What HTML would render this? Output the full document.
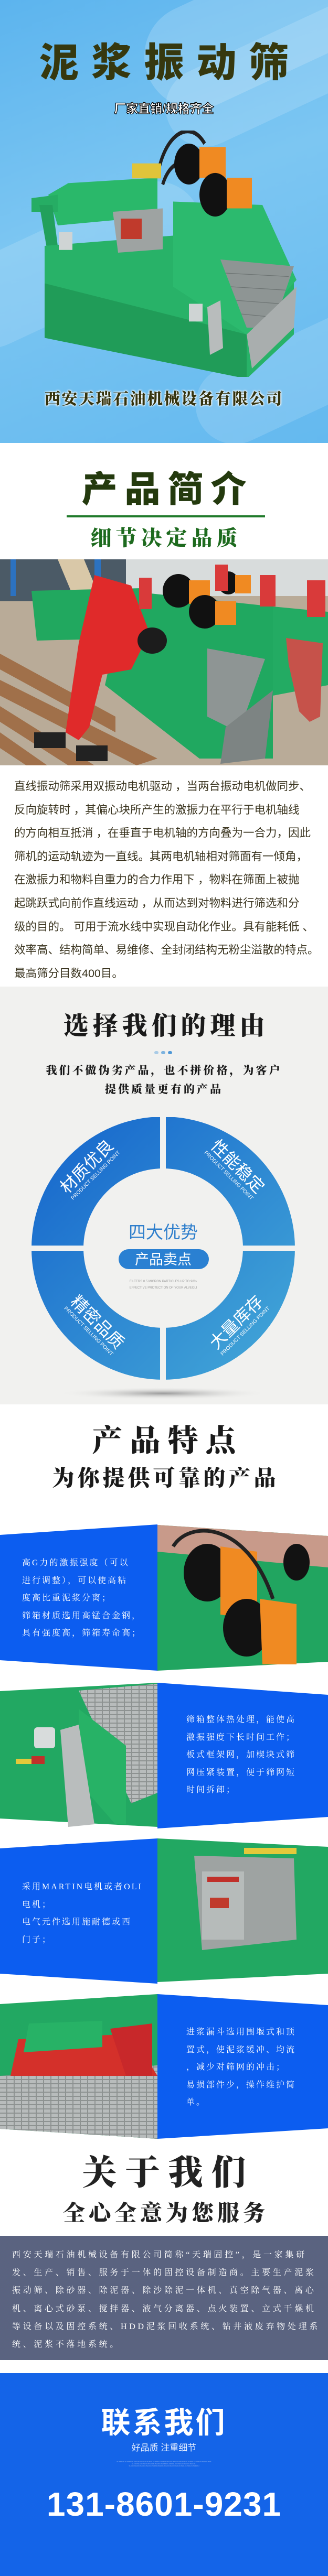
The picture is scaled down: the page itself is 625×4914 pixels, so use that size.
<!DOCTYPE html>
<html><head><meta charset="utf-8"><style>
*{margin:0;padding:0;box-sizing:border-box}
body{width:625px;height:4914px;position:relative;background:#fff;overflow:hidden;font-family:"Liberation Sans","Noto Sans CJK SC",sans-serif}
.a{position:absolute}
.c{position:absolute;left:0;width:625px;text-align:center;white-space:nowrap}
.cal{font-family:"Liberation Serif","Noto Serif CJK SC",serif;font-weight:900}
.ft{position:absolute;color:#fff;font-family:"Liberation Serif","Noto Serif CJK SC",serif;font-size:16px;letter-spacing:3px;line-height:33.6px;white-space:nowrap}
</style></head><body>

<!-- HERO -->
<div class="a" style="left:0;top:0;width:625px;height:845px;background:linear-gradient(160deg,#5cb4ee 0%,#7cc6f2 45%,#64b9ef 100%);overflow:hidden">
 <div class="a" style="left:260px;top:-60px;width:520px;height:200px;border-radius:100px;background:rgba(255,255,255,.18);transform:rotate(-25deg)"></div>
 <div class="a" style="left:300px;top:60px;width:480px;height:150px;border-radius:80px;background:rgba(255,255,255,.15);transform:rotate(-25deg)"></div>
 <div class="a" style="left:-120px;top:420px;width:520px;height:170px;border-radius:90px;background:rgba(255,255,255,.14);transform:rotate(-25deg)"></div>
 <div class="a" style="left:360px;top:640px;width:420px;height:150px;border-radius:80px;background:rgba(255,255,255,.14);transform:rotate(-25deg)"></div>
</div>
<div class="c" style="top:78px;font-size:76px;line-height:86px;letter-spacing:24px;text-indent:24px;color:#36380f;font-weight:900;font-family:'Liberation Sans','Noto Sans CJK SC',sans-serif">泥浆振动筛</div>
<div class="c" style="top:193px;font-size:23px;line-height:28px;color:#fff;font-weight:900;-webkit-text-stroke:1.2px #000">厂家直销/规格齐全</div>

<svg class="a" style="left:0;top:249px" width="625" height="470" viewBox="0 0 625 470">
<g transform="translate(0,-40) scale(1,1.3)">
 <path d="M300 100 C310 40 360 10 390 50" stroke="#222" stroke-width="6" fill="none"/>
 <path d="M310 110 C330 60 380 70 430 110" stroke="#222" stroke-width="6" fill="none"/>
 <polygon points="92,125 130,108 300,100 300,150 250,160 110,170" fill="#2ab86a"/>
 <polygon points="60,130 110,125 110,150 60,150" fill="#26ad64"/>
 <polygon points="75,140 100,140 115,230 95,230" fill="#22a05c"/>
 <polygon points="85,200 330,185 560,250 560,330 470,395 85,330" fill="#28b268"/>
 <polygon points="85,255 470,330 470,395 85,335" fill="#209c58"/>
 <polygon points="330,135 500,140 565,250 470,330 330,260" fill="#2cba6e"/>
 <polygon points="420,220 560,230 520,320 470,320" fill="#8e9594"/>
 <g stroke="#6d7473" stroke-width="1">
  <line x1="430" y1="240" x2="550" y2="245"/><line x1="440" y1="260" x2="545" y2="265"/><line x1="450" y1="280" x2="535" y2="285"/><line x1="460" y1="300" x2="525" y2="305"/>
 </g>
 <polygon points="470,330 565,260 560,320 480,380" fill="#a9aeae"/>
 <polygon points="215,150 310,145 310,205 225,210" fill="#9ea3a2"/>
 <rect x="230" y="160" width="40" height="30" fill="#c03a2c"/>
 <rect x="252" y="79" width="55" height="22" fill="#e0c43a"/>
 <ellipse cx="360" cy="80" rx="28" ry="30" fill="#111"/>
 <rect x="380" y="55" width="50" height="45" fill="#f08a22"/>
 <ellipse cx="410" cy="125" rx="30" ry="32" fill="#111"/>
 <rect x="432" y="100" width="48" height="45" fill="#f08a22"/>
 <rect x="112" y="180" width="26" height="26" fill="#cfd4d4"/>
 <rect x="360" y="285" width="26" height="26" fill="#cfd4d4"/>
 <polygon points="395,290 420,280 425,350 400,360" fill="#b8bcbc"/>
</g>
</svg>

<div class="c cal" style="top:745px;font-size:30px;line-height:34px;letter-spacing:2.5px;color:#35330e;text-shadow:0 0 3px #fff,0 0 3px #fff,0 0 5px #fff">西安天瑞石油机械设备有限公司</div>

<!-- PRODUCT INTRO -->
<div class="c" style="top:895px;font-size:68px;line-height:78px;letter-spacing:14px;text-indent:14px;color:#243a0e;font-weight:900;font-family:'Liberation Sans','Noto Sans CJK SC',sans-serif">产品简介</div>
<div class="a" style="left:127px;top:983px;width:378px;height:4px;background:#1f7a2a"></div>
<div class="c cal" style="top:1004px;font-size:40px;line-height:46px;letter-spacing:8px;text-indent:8px;color:#1d6a1e">细节决定品质</div>

<svg class="a" style="left:0;top:1067px" width="625" height="393" viewBox="0 0 625 393">
 <rect width="625" height="393" fill="#b9ab98"/>
 <rect width="625" height="70" fill="#d8dcdc"/>
 <rect x="0" y="0" width="240" height="80" fill="#4b5a66"/>
 <rect x="20" y="0" width="10" height="70" fill="#2c72c0"/>
 <rect x="180" y="0" width="12" height="60" fill="#2c72c0"/>
 <polygon points="110,0 160,0 185,60 135,60" fill="#d9c8a8"/>
 <polygon points="60,60 270,55 270,150 70,155" fill="#21a85f"/>
 <polygon points="240,60 520,90 520,380 380,380 200,240" fill="#20a860"/>
 <polygon points="520,90 625,100 625,240 520,260" fill="#23ab63"/>
 <polygon points="395,170 505,190 455,330 395,300" fill="#8e9594"/>
 <polygon points="430,320 520,250 505,380 420,390" fill="#7d8483"/>
 <ellipse cx="340" cy="60" rx="30" ry="32" fill="#111"/><rect x="360" y="40" width="40" height="45" fill="#f08a22"/>
 <ellipse cx="390" cy="100" rx="30" ry="32" fill="#111"/><rect x="410" y="80" width="40" height="45" fill="#f08a22"/>
 <ellipse cx="435" cy="45" rx="20" ry="22" fill="#111"/><rect x="448" y="30" width="30" height="35" fill="#f08a22"/>
 <g fill="#a0704a">
  <polygon points="0,180 220,300 220,330 0,210"/><polygon points="0,230 300,380 260,393 0,260"/><polygon points="0,280 180,393 130,393 0,310"/><polygon points="0,330 90,393 50,393 0,360"/>
 </g>
 <path d="M180 30 L250 50 L285 140 L250 210 L195 220 L170 320 L150 345 L125 330 L150 160 Z" fill="#e02a2a"/>
 <ellipse cx="290" cy="155" rx="28" ry="25" fill="#1c1c1c"/>
 <rect x="65" y="330" width="60" height="30" fill="#222"/><rect x="145" y="355" width="60" height="30" fill="#222"/>
 <path d="M545 150 L615 160 L610 300 L590 310 L570 290 L550 200 Z" fill="#c6524a"/>
 <g fill="#d93a3a"><rect x="265" y="35" width="24" height="60"/><rect x="410" y="10" width="24" height="50"/><rect x="495" y="30" width="30" height="60"/><rect x="585" y="40" width="35" height="70"/></g>
</svg>

<div class="a" style="left:27px;top:1478px;width:600px;font-size:21.5px;line-height:44.6px;color:#3b3520;white-space:nowrap">直线振动筛采用双振动电机驱动 ，当两台振动电机做同步、<br>反向旋转时 ，其偏心块所产生的激振力在平行于电机轴线<br>的方向相互抵消 ，在垂直于电机轴的方向叠为一合力，因此<br>筛机的运动轨迹为一直线。其两电机轴相对筛面有一倾角，<br>在激振力和物料自重力的合力作用下 ，物料在筛面上被抛<br>起跳跃式向前作直线运动 ，从而达到对物料进行筛选和分<br>级的目的。 可用于流水线中实现自动化作业。具有能耗低 、<br>效率高、结构简单、易维修、全封闭结构无粉尘溢散的特点。<br>最高筛分目数400目。</div>

<!-- REASONS -->
<div class="a" style="left:0;top:1882px;width:625px;height:797px;background:#f1f1ef"></div>
<div class="c cal" style="top:1930px;font-size:48px;line-height:56px;letter-spacing:8px;text-indent:8px;color:#1a1a1a">选择我们的理由</div>
<div class="a" style="left:294px;top:2005px;width:8px;height:6px;border-radius:3px;background:#a9cbe6"></div>
<div class="a" style="left:307px;top:2005px;width:8px;height:6px;border-radius:3px;background:#7db3df"></div>
<div class="a" style="left:320px;top:2005px;width:8px;height:6px;border-radius:3px;background:#4f98d6"></div>
<div class="c cal" style="top:2024px;font-size:21px;line-height:36px;letter-spacing:4px;color:#1a1a1a">我们不做伪劣产品，也不拼价格，为客户<br>提供质量更有的产品</div>

<svg class="a" style="left:0;top:2120px" width="625" height="560" viewBox="0 2120 625 560">
 <defs>
  <linearGradient id="rg" x1="0" y1="0" x2="1" y2="1"><stop offset="0" stop-color="#1463cc"/><stop offset="1" stop-color="#45aad8"/></linearGradient>
  <radialGradient id="sh" cx="0.5" cy="0.5" r="0.5"><stop offset="0" stop-color="#9a9a9a"/><stop offset="1" stop-color="#f1f1ef" stop-opacity="0"/></radialGradient>
 </defs>
 <ellipse cx="311" cy="2658" rx="200" ry="12" fill="url(#sh)"/>
 <circle cx="311" cy="2381" r="251" fill="url(#rg)"/>
 <circle cx="311" cy="2381" r="152" fill="#f1f1ef"/>
 <rect x="305" y="2120" width="11" height="520" fill="#f1f1ef"/>
 <rect x="0" y="2376" width="625" height="10" fill="#f1f1ef"/>
 <rect x="0" y="2120" width="60" height="520" fill="#f1f1ef"/>
 <rect x="562" y="2120" width="63" height="520" fill="#f1f1ef"/>
 <rect x="0" y="2120" width="625" height="11" fill="#f1f1ef"/>
 <rect x="226" y="2383" width="172" height="38" rx="19" fill="#2a80d2"/>
 <text x="311" y="2362" text-anchor="middle" font-size="33" fill="#2f7fcc" font-family="Liberation Sans, Noto Sans CJK SC, sans-serif">四大优势</text>
 <text x="311" y="2412" text-anchor="middle" font-size="27" fill="#fff" font-family="Liberation Sans, Noto Sans CJK SC, sans-serif">产品卖点</text>
 <text x="311" y="2446" text-anchor="middle" font-size="6" fill="#999" font-family="Liberation Sans, sans-serif">FILTERS 0.5 MICRON PARTICLES UP TO 98%</text>
 <text x="311" y="2458" text-anchor="middle" font-size="6" fill="#999" font-family="Liberation Sans, sans-serif">EFFECTIVE PROTECTION OF YOUR ALVEOLI</text>
 <g fill="#fff" font-family="Liberation Sans, Noto Sans CJK SC, sans-serif" text-anchor="middle">
  <g transform="translate(173,2233) rotate(-45)"><text y="0" font-size="32">材质优良</text><text y="16" font-size="10">PRODUCT SELLING POINT</text></g>
  <g transform="translate(445,2233) rotate(45)"><text y="0" font-size="32">性能稳定</text><text y="16" font-size="10">PRODUCT SELLING POINT</text></g>
  <g transform="translate(178,2530) rotate(45)"><text y="0" font-size="32">精密品质</text><text y="16" font-size="10">PRODUCT SELLING POINT</text></g>
  <g transform="translate(458,2530) rotate(-45)"><text y="0" font-size="32">大量库存</text><text y="16" font-size="10">PRODUCT SELLING POINT</text></g>
 </g>
</svg>

<!-- FEATURES -->
<div class="c cal" style="top:2716px;font-size:58px;line-height:66px;letter-spacing:14px;text-indent:14px;color:#1a1a1a">产品特点</div>
<div class="c cal" style="top:2796px;font-size:42px;line-height:50px;letter-spacing:6px;text-indent:6px;color:#1a1a1a">为你提供可靠的产品</div>

<svg class="a" style="left:0;top:2900px" width="625" height="1190" viewBox="0 2900 625 1190">
 <defs><pattern id="mesh" width="14" height="8" patternUnits="userSpaceOnUse"><rect width="14" height="8" fill="#8d9291"/><rect width="12" height="6" fill="#b8bcbc"/></pattern></defs>
 <polygon points="0,2928 300,2908 300,3187 0,3167" fill="#0c5df0"/>
 <polygon points="300,2909 625,2930 625,3170 300,3187" fill="#21a560"/>
 <polygon points="300,2909 625,2930 625,2990 300,2960" fill="#c89a8a"/>
 <ellipse cx="395" cy="3000" rx="45" ry="55" fill="#121212"/>
 <polygon points="420,2950 490,2960 490,3090 420,3080" fill="#f08a22"/>
 <ellipse cx="470" cy="3105" rx="45" ry="55" fill="#121212"/>
 <polygon points="495,3050 565,3060 565,3175 500,3175" fill="#f08a22"/>
 <ellipse cx="565" cy="2980" rx="25" ry="35" fill="#121212"/>
 <path d="M330 2950 C360 2900 470 2900 520 3050" stroke="#222" stroke-width="7" fill="none"/>
 <polygon points="0,3226 300,3210 300,3485 0,3469" fill="#22a862"/>
 <polygon points="150,3225 300,3212 300,3420 250,3440" fill="url(#mesh)"/>
 <polygon points="150,3260 240,3330 240,3480 220,3480 150,3400" fill="#27b266"/>
 <rect x="65" y="3295" width="40" height="40" rx="6" fill="#d8dcdc"/>
 <polygon points="115,3300 150,3290 180,3480 130,3485" fill="#b9bdbd"/>
 <rect x="30" y="3355" width="30" height="10" fill="#e3c93a"/>
 <rect x="60" y="3350" width="25" height="15" fill="#c0302a"/>
 <polygon points="300,3210 625,3233 625,3466 300,3488" fill="#0c5df0"/>
 <polygon points="0,3526 300,3507 300,3784 0,3765" fill="#0c5df0"/>
 <polygon points="300,3507 625,3523 625,3765 300,3781" fill="#22a862"/>
 <polygon points="370,3540 560,3545 565,3700 385,3720" fill="#9ea3a2"/>
 <rect x="385" y="3570" width="80" height="130" fill="#b6bbba"/>
 <rect x="395" y="3580" width="60" height="10" fill="#c0302a"/>
 <rect x="400" y="3620" width="36" height="20" fill="#c03a2c"/>
 <rect x="465" y="3525" width="100" height="12" fill="#e3c93a"/>
 <polygon points="0,3823 300,3804 300,4080 0,4061" fill="#22a862"/>
 <polygon points="0,3960 300,3940 300,4080 0,4061" fill="url(#mesh)"/>
 <polygon points="35,3890 250,3880 300,3960 20,3960" fill="#d4302a"/>
 <polygon points="55,3860 195,3855 195,3905 45,3915" fill="#27b266"/>
 <polygon points="210,3870 290,3860 290,3960 240,3960" fill="#c8282a"/>
 <polygon points="300,3804 625,3825 625,4060 300,4080" fill="#0c5df0"/>
</svg>

<div class="ft" style="left:42px;top:2965px">高G力的激振强度（可以<br>进行调整），可以使高粘<br>度高比重泥浆分离；<br>筛箱材质选用高锰合金钢，<br>具有强度高，筛箱寿命高；</div>
<div class="ft" style="left:355px;top:3264px">筛箱整体热处理，能使高<br>激振强度下长时间工作；<br>板式框架网，加楔块式筛<br>网压紧装置，便于筛网短<br>时间拆卸；</div>
<div class="ft" style="left:42px;top:3583px">采用MARTIN电机或者OLI<br>电机；<br>电气元件选用施耐德或西<br>门子；</div>
<div class="ft" style="left:355px;top:3860px">进浆漏斗选用围堰式和顶<br>置式，使泥浆缓冲、均流<br>，减少对筛网的冲击；<br>易损部件少，操作维护简<br>单。</div>

<!-- ABOUT -->
<div class="c cal" style="top:4106px;font-size:66px;line-height:80px;letter-spacing:16px;text-indent:16px;color:#222">关于我们</div>
<div class="c cal" style="top:4198px;font-size:42px;line-height:50px;letter-spacing:7px;text-indent:7px;color:#222">全心全意为您服务</div>
<div class="a" style="left:0;top:4265px;width:625px;height:237px;background:#5a6380"></div>
<div class="a cal" style="left:23px;top:4285px;font-size:16px;letter-spacing:4.7px;line-height:34.2px;color:#fff;white-space:nowrap;font-weight:400">西安天瑞石油机械设备有限公司简称“天瑞固控”，是一家集研<br>发、生产、销售、服务于一体的固控设备制造商。主要生产泥浆<br>振动筛、除砂器、除泥器、除沙除泥一体机、真空除气器、离心<br>机、离心式砂泵、搅拌器、液气分离器、点火装置、立式干燥机<br>等设备以及固控系统、HDD泥浆回收系统、钻井液废弃物处理系<br>统、泥浆不落地系统。</div>

<!-- CONTACT -->
<div class="a" style="left:0;top:4527px;width:625px;height:387px;background:#1464e8"></div>
<div class="c" style="top:4590px;font-size:56px;line-height:64px;letter-spacing:4px;color:#fff;font-weight:700">联系我们</div>
<div class="c" style="top:4658px;font-size:17px;line-height:24px;color:#e8f0ff">好品质 注重细节</div>
<div class="c" style="top:4694px;font-size:3px;line-height:4px;color:#9ab8f0">SLIKDFJSLDLSKDFJSLKDFJSLDKFJSDLFKJSDLFKJSDFLKJSDFLKJSDLFKJSDLFKJSDLFKJSDLFKJSDLFKJSDLFKJSDFLKJSDF<br>SLKDFJSLKDFJSLKDJFSLKDFJSLDKFJSLDKFJSLKDFJSLDKFJSDLKFJSDLFKJSDLFKJ<br>SLKDFJSLKDFJSLDKFJSLDKFJSLDKFJSDLKFJSDLKFJSLDKFJSDLFKJSDLFKJSDLFKJSDLFKJ</div>
<div class="c" style="top:4740px;font-size:64px;line-height:74px;color:#fff;font-weight:700;letter-spacing:1px">131-8601-9231</div>
</body></html>
